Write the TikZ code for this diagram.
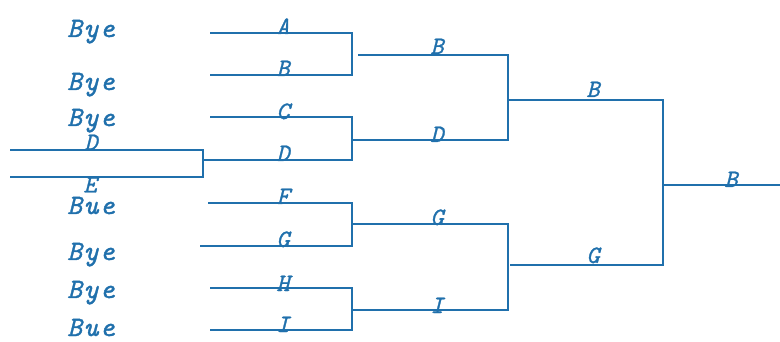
\documentclass[tikz,border=0pt]{standalone}
\usepackage{fontspec}
\newfontfamily\labfont[FakeBold=1.2]{lmmono10-italic.otf}
\newfontfamily\byefont[FakeBold=1.2,LetterSpace=6]{lmmono10-italic.otf}
\definecolor{ink}{RGB}{32,112,172}
\begin{document}
\begin{tikzpicture}[x=1pt,y=-1pt,
  wire/.style={draw=ink,line width=2pt},
  lab/.style={text=ink,font=\labfont\fontsize{25}{25}\selectfont,inner sep=0pt,anchor=base},
  bye/.style={text=ink,font=\byefont\fontsize{28}{28}\selectfont,inner sep=0pt,anchor=base}]
\useasboundingbox (0,0) rectangle (780,342);
% Bye labels
\node[bye] (y1) at (91,37) {Bye};
\node[bye] (y2) at (91,90) {Bye};
\node[bye] (y3) at (91,126) {Bye};
\node[bye] (y4) at (91,214) {Bue};
\node[bye] (y5) at (91,260) {Bye};
\node[bye] (y6) at (91,298) {Bye};
\node[bye] (y7) at (91,336) {Bue};
% preliminary
\coordinate (pd0) at (10,150); \coordinate (pd1) at (203,150);
\coordinate (pe0) at (10,177); \coordinate (pe1) at (203,177);
\draw[wire] (pd0) -- (pd1) -- (pe1) -- (pe0);
\node[lab] (lpd) at (91,150) {D};
\node[lab,anchor=north] (lpe) at (90,177) {E};
% round 1
\coordinate (a0) at (210,33);  \coordinate (a1) at (352,33);
\coordinate (b0) at (210,75);  \coordinate (b1) at (352,75);
\coordinate (c0) at (210,117); \coordinate (c1) at (352,117);
\coordinate (d0) at (203,160); \coordinate (d1) at (352,160);
\coordinate (f0) at (208,203); \coordinate (f1) at (352,203);
\coordinate (g0) at (200,246); \coordinate (g1) at (352,246);
\coordinate (h0) at (210,288); \coordinate (h1) at (352,288);
\coordinate (i0) at (210,330); \coordinate (i1) at (352,330);
\draw[wire] (a0) -- (a1) -- (b1) -- (b0);
\draw[wire] (c0) -- (c1) -- (d1) -- (d0);
\draw[wire] (f0) -- (f1) -- (g1) -- (g0);
\draw[wire] (h0) -- (h1) -- (i1) -- (i0);
\node[lab] (la) at (283,34) {A};
\node[lab] (lb) at (283,76) {B};
\node[lab] (lc) at (283,119) {C};
\node[lab] (ld) at (283,161) {D};
\node[lab] (lf) at (283,204) {F};
\node[lab] (lg) at (283,247) {G};
\node[lab] (lh) at (283,291) {H};
\node[lab] (li) at (283,332) {I};
% round 2
\coordinate (rb0) at (358,55);  \coordinate (rb1) at (508,55);
\coordinate (rd0) at (352,140); \coordinate (rd1) at (508,140);
\coordinate (rg0) at (352,224); \coordinate (rg1) at (508,224);
\coordinate (ri0) at (352,310); \coordinate (ri1) at (508,310);
\draw[wire] (rb0) -- (rb1) -- (rd1) -- (rd0);
\draw[wire] (rg0) -- (rg1) -- (ri1) -- (ri0);
\node[lab] (lrb) at (437,54) {B};
\node[lab] (lrd) at (437,142) {D};
\node[lab] (lrg) at (437,225) {G};
\node[lab] (lri) at (437,313) {I};
% round 3
\coordinate (sb0) at (508,100); \coordinate (sb1) at (663,100);
\coordinate (sg0) at (510,265); \coordinate (sg1) at (663,265);
\draw[wire] (sb0) -- (sb1) -- (sg1) -- (sg0);
\node[lab] (lsb) at (593,97) {B};
\node[lab] (lsg) at (593,263) {G};
% final
\coordinate (w0) at (663,185); \coordinate (w1) at (780,185);
\draw[wire] (w0) -- (w1);
\node[lab] (lw) at (731,187) {B};
\end{tikzpicture}
\end{document}
